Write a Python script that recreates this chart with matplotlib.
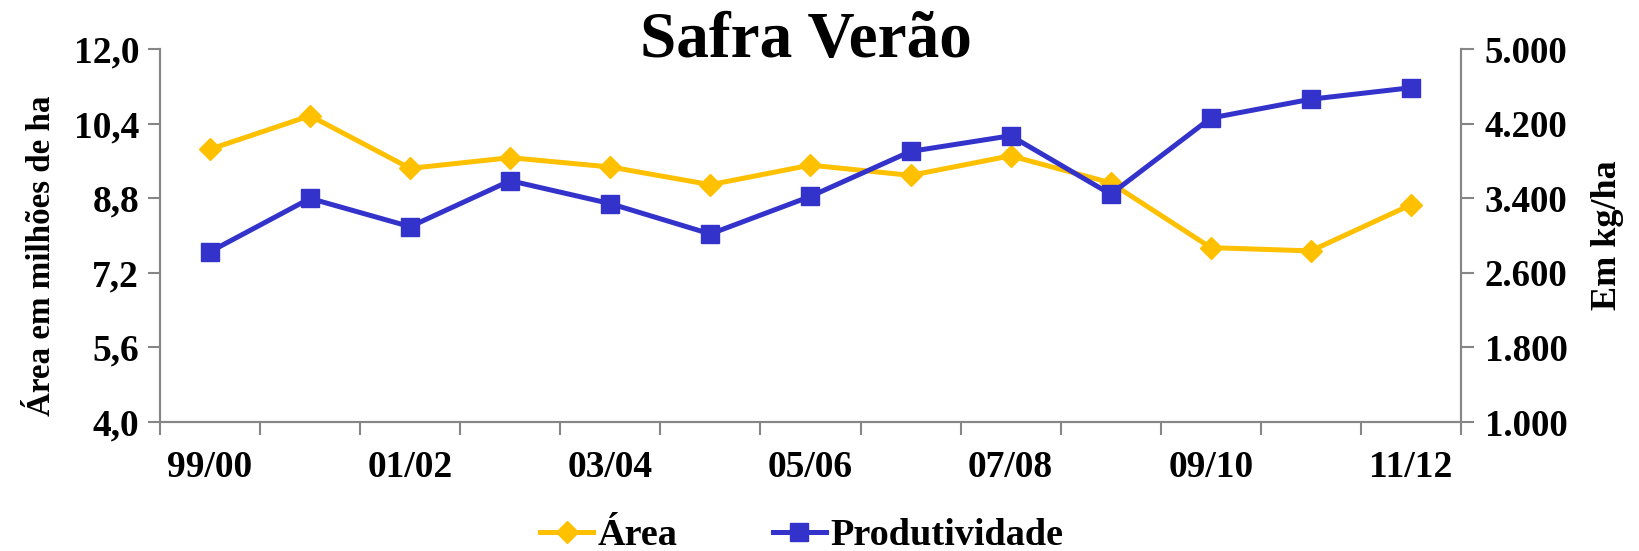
import matplotlib
matplotlib.use("Agg")
import matplotlib.pyplot as plt
from matplotlib.ticker import FuncFormatter, FixedLocator

plt.rcParams['font.family'] = ['Liberation Serif', 'DejaVu Serif']
plt.rcParams['font.weight'] = 'bold'

# dados
safras = ["99/00", "00/01", "01/02", "02/03", "03/04", "04/05", "05/06",
          "06/07", "07/08", "08/09", "09/10", "10/11", "11/12"]
area = [9.85, 10.57, 9.44, 9.67, 9.47, 9.09, 9.51, 9.29, 9.71, 9.13, 7.74, 7.67, 8.66]
produtividade = [2826, 3398, 3095, 3588, 3342, 3017, 3420, 3902, 4070, 3443, 4260, 4462, 4585]

AREA_COLOR = "#FFC000"
PROD_COLOR = "#3333CC"
GRAY = "#868686"

fig = plt.figure(figsize=(16.39, 5.51), dpi=100)
ax = fig.add_axes([0.0976, 0.2341, 0.7938, 0.6769])
ax2 = ax.twinx()

x = list(range(len(safras)))
l1, = ax.plot(x, area, color=AREA_COLOR, lw=3.6, marker='D', ms=11.5,
              label="Área", zorder=3)
l2, = ax2.plot(x, produtividade, color=PROD_COLOR, lw=3.6, marker='s', ms=13,
               label="Produtividade", zorder=3)

ax.set_xlim(-0.5, len(safras) - 0.5)
ax.set_ylim(4.0, 12.0)
ax.set_yticks([4.0, 5.6, 7.2, 8.8, 10.4, 12.0])
ax.yaxis.set_major_formatter(FuncFormatter(lambda v, p: f"{v:.1f}".replace(".", ",")))
ax2.set_ylim(1000, 5000)
ax2.set_yticks([1000, 1800, 2600, 3400, 4200, 5000])
ax2.yaxis.set_major_formatter(FuncFormatter(lambda v, p: f"{int(v):,}".replace(",", ".")))

# ticks nas divisões, rótulos a cada duas safras
ax.xaxis.set_major_locator(FixedLocator([i - 0.5 for i in range(len(safras) + 1)]))
ax.xaxis.set_minor_locator(FixedLocator(x[::2]))
ax.set_xticklabels([""] * (len(safras) + 1))
ax.set_xticklabels(safras[::2], minor=True)
ax.tick_params(axis='x', which='major', length=9, width=1.5, color=GRAY, direction='out')
ax.tick_params(axis='x', which='minor', length=0, labelsize=27, pad=20)
ax.tick_params(axis='y', length=9, width=1.5, color=GRAY, labelsize=27, pad=6)
ax2.tick_params(axis='y', length=9, width=1.5, color=GRAY, labelsize=26.5, pad=8)

for a in (ax, ax2):
    a.spines['top'].set_visible(False)
    for s in ('left', 'right', 'bottom'):
        a.spines[s].set_color(GRAY)
        a.spines[s].set_linewidth(1.5)

ax.set_ylabel("Área em milhões de ha", fontsize=23.8, fontweight='bold')
ax.yaxis.set_label_coords(-0.079, 0.445)
ax2.set_ylabel("Em kg/ha", fontsize=26, fontweight='bold')
ax2.yaxis.set_label_coords(1.1, 0.5)

fig.text(0.492, 0.926, "Safra Verão", ha='center', va='center',
         fontsize=47, fontweight='bold')

fig.legend(handles=[l1, l2], loc='center', bbox_to_anchor=(0.489, 0.028),
           ncol=2, frameon=False, fontsize=27.5, handlelength=1.4,
           handletextpad=0.1, columnspacing=2.5)

fig.savefig("out.png", dpi=100)
